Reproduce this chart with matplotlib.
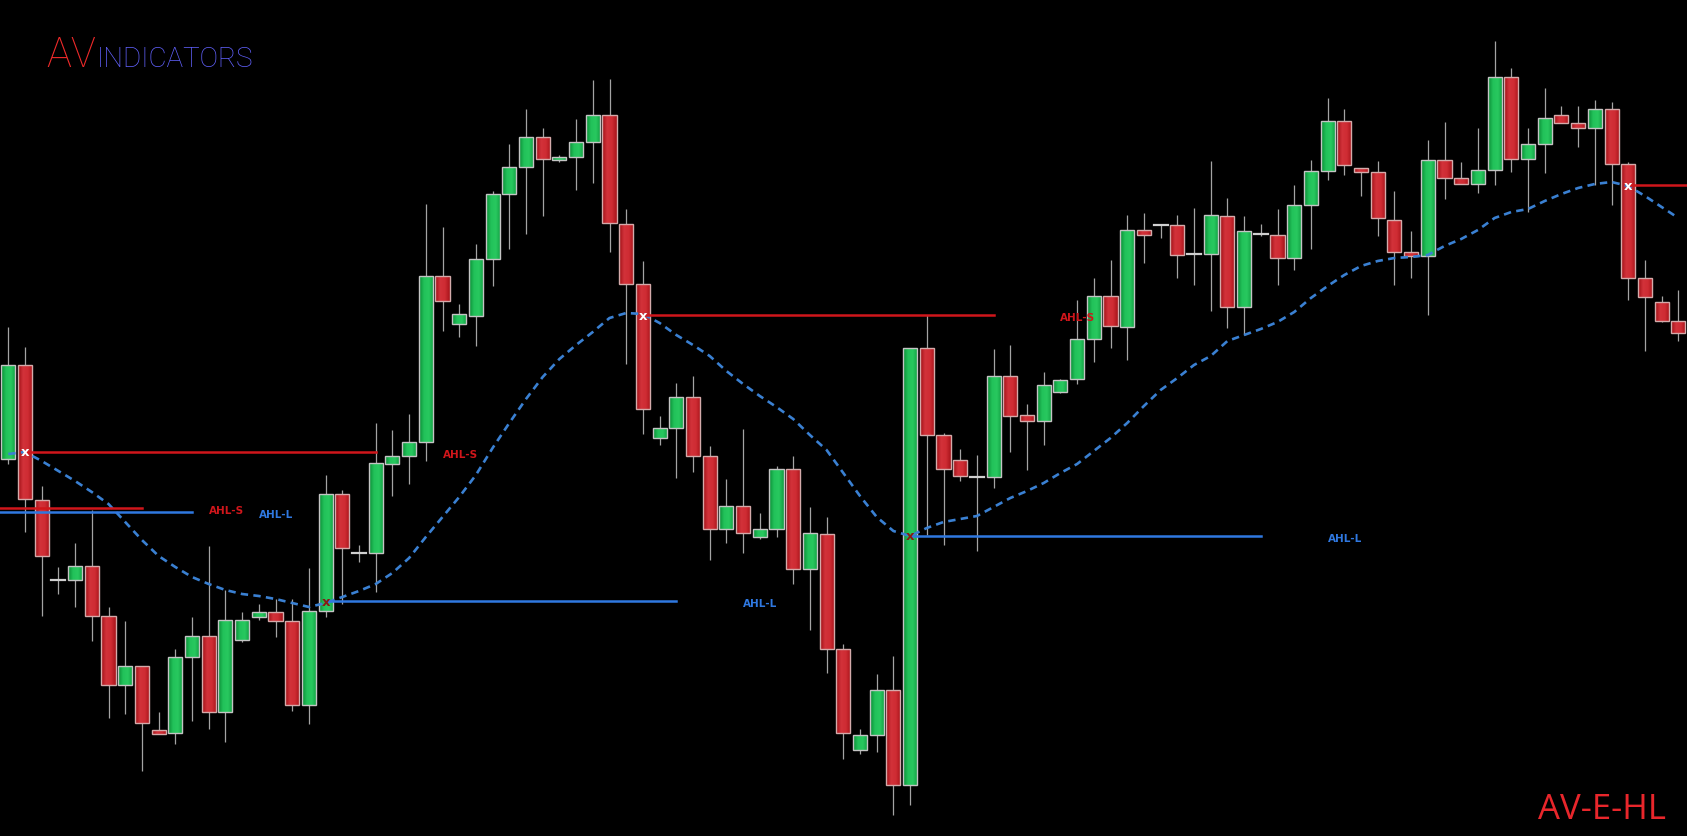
import numpy as np
import matplotlib.pyplot as plt
from matplotlib.patches import Rectangle
from matplotlib.colors import LinearSegmentedColormap

# OHLC prices (points), bar 0 .. 100
opens = [377, 471, 336, 256, 256, 270, 220, 151, 170, 106,
         103, 179, 200, 124, 196, 219, 224, 215, 131, 225,
         342, 283, 283, 372, 380, 394, 560, 512, 520, 577,
         642, 669, 699, 676, 679, 694, 721, 612, 552, 398,
         408, 439, 380, 307, 330, 299, 307, 367, 267, 302,
         187, 86, 101, 146, 51, 488, 401, 376, 359, 359,
         460, 421, 415, 444, 457, 497, 540, 509, 606, 611,
         611, 582, 582, 620, 529, 602, 601, 578, 631, 665,
         715, 668, 664, 616, 584, 580, 676, 658, 652, 666,
         759, 677, 692, 721, 713, 708, 727, 672, 558, 534, 515]
highs = [509, 489, 350, 269, 293, 326, 229, 215, 170, 124,
         187, 219, 290, 246, 224, 232, 237, 237, 268, 361,
         346, 291, 413, 406, 422, 632, 609, 532, 592, 645,
         692, 727, 708, 681, 717, 756, 757, 627, 575, 420,
         453, 460, 390, 357, 407, 323, 370, 380, 329, 319,
         192, 107, 162, 180, 488, 521, 403, 387, 381, 487,
         491, 432, 464, 457, 536, 558, 576, 621, 623, 611,
         621, 628, 675, 638, 620, 612, 627, 651, 676, 738,
         727, 668, 675, 645, 605, 696, 714, 674, 708, 795,
         768, 708, 748, 730, 730, 736, 734, 674, 576, 540, 546]
lows = [372, 304, 220, 242, 229, 195, 118, 122, 65, 102,
        92, 115, 107, 94, 194, 216, 199, 125, 112, 219,
        232, 274, 244, 340, 352, 375, 505, 499, 490, 550,
        587, 602, 620, 674, 646, 653, 584, 472, 402, 391,
        358, 364, 276, 293, 283, 297, 299, 252, 206, 163,
        77, 82, 84, 21, 31, 301, 291, 355, 285, 348,
        384, 366, 391, 443, 452, 474, 488, 476, 573, 598,
        558, 551, 525, 508, 501, 600, 551, 566, 587, 656,
        661, 640, 600, 551, 558, 521, 637, 652, 643, 651,
        664, 624, 663, 713, 689, 651, 631, 536, 485, 514, 495]
closes = [471, 337, 280, 256, 270, 220, 151, 170, 113, 102,
          179, 200, 124, 216, 216, 224, 215, 131, 225, 342,
          288, 283, 373, 380, 394, 560, 535, 522, 577, 642,
          669, 699, 677, 679, 694, 721, 613, 552, 427, 408,
          439, 380, 307, 330, 303, 307, 367, 267, 303, 187,
          103, 101, 146, 51, 488, 401, 367, 360, 359, 460,
          420, 415, 451, 456, 497, 540, 510, 606, 601, 611,
          581, 582, 621, 529, 605, 602, 578, 631, 665, 715,
          671, 664, 618, 584, 580, 676, 658, 652, 666, 759,
          677, 692, 718, 713, 708, 727, 672, 558, 539, 515, 503]

# dotted moving average
ma_line = [382, 384, 375, 365, 355, 344, 332, 314, 296, 280,
           269, 259, 252, 246, 242, 240, 237, 233, 229, 233,
           239, 245, 252, 263, 278, 299, 319, 339, 361, 388,
           413, 437, 459, 477, 491, 504, 518, 523, 522, 513,
           501, 491, 480, 465, 452, 440, 429, 417, 401, 386,
           363, 340, 319, 305, 300, 308, 314, 317, 320, 329,
           338, 345, 353, 363, 372, 385, 398, 413, 430, 446,
           458, 471, 480, 495, 501, 507, 514, 524, 538, 550,
           561, 570, 575, 578, 579, 581, 590, 597, 606, 618,
           624, 627, 635, 642, 648, 652, 654, 650, 640, 629, 618]

# AHL levels: start bar, end bar, price, side
ahl_start = [-1, -1, 1, 19, 38, 54, 97]
ahl_end = [8, 11, 22, 40, 59, 75, 102]
ahl_price = [328, 324, 384, 235, 521, 300, 651]
ahl_side = ['S', 'L', 'S', 'L', 'S', 'L', 'S']

# signal crosses
signal_bars = [1, 19, 38, 54, 97]
signal_price = [384, 235, 521, 300, 651]
signal_side = ['S', 'L', 'S', 'L', 'S']

green_cmap = LinearSegmentedColormap.from_list('g', ['#0b8c36', '#22c25a', '#28c85f', '#139f43'])
red_cmap = LinearSegmentedColormap.from_list('r', ['#9e1016', '#d2323a', '#cf2c33', '#a8141b'])
grad = np.linspace(0, 1, 40).reshape(1, -1)

fig = plt.figure(figsize=(16.87, 8.37), dpi=100, facecolor='black')
ax = fig.add_axes([0, 0, 1, 1])
ax.set_facecolor('black')

w = 0.84
for i in range(len(opens)):
    o, h, l, c = opens[i], highs[i], lows[i], closes[i]
    ax.plot([i, i], [l, h], color='#a4a4a4', lw=0.9, zorder=2, solid_capstyle='butt')
    if o == c:
        ax.plot([i - w / 2, i + w / 2], [o, o], color='#d0d0d0', lw=1.6, zorder=3)
        continue
    lo, hi = min(o, c), max(o, c)
    cmap = green_cmap if c > o else red_cmap
    ax.imshow(grad, cmap=cmap, extent=(i - w / 2, i + w / 2, lo, hi), aspect='auto',
              interpolation='bilinear', zorder=3)
    edge = '#c4c4c4' if c > o else '#d4aaaa'
    ax.add_patch(Rectangle((i - w / 2, lo), w, hi - lo, fill=False, ec=edge, lw=1.0, zorder=4))

ax.plot(range(len(ma_line)), ma_line, color='#3a80d2', lw=1.9, dashes=(2.8, 2.0), zorder=5)

for k in range(len(ahl_start)):
    col = '#d0161b' if ahl_side[k] == 'S' else '#2f78e0'
    ax.plot([ahl_start[k], ahl_end[k]], [ahl_price[k], ahl_price[k]], color=col, lw=1.8, zorder=5)
    if ahl_end[k] < 100:
        ax.text(ahl_end[k] + 4, ahl_price[k] - 2, 'AHL-' + ahl_side[k], color=col,
                fontsize=7.5, fontweight='bold', ha='left', va='center', zorder=6)

for k in range(len(signal_bars)):
    col = 'white' if signal_side[k] == 'S' else '#8a1a14'
    ax.text(signal_bars[k], signal_price[k], 'x', color=col, fontsize=9.5, fontweight='bold',
            ha='center', va='center', zorder=7)

ax.set_xlim(-0.497, 100.52)
ax.set_ylim(0, 837)
ax.axis('off')

# logo
base = 1 - 67 / 837
fig.text(46 / 1687, base, 'AV', color='#f02a2a', fontsize=30, family='Roboto',
         fontweight='light', ha='left', va='baseline')
fig.text(97 / 1687, base, 'INDICATORS', color='#6262ff', fontsize=20, family='Roboto',
         fontweight='light', ha='left', va='baseline')
fig.text(1538 / 1687, 1 - 819 / 837, 'AV-E-HL', color='#e8262b', fontsize=25, family='Open Sans',
         ha='left', va='baseline')

plt.savefig('out.png', dpi=100, facecolor='black')
